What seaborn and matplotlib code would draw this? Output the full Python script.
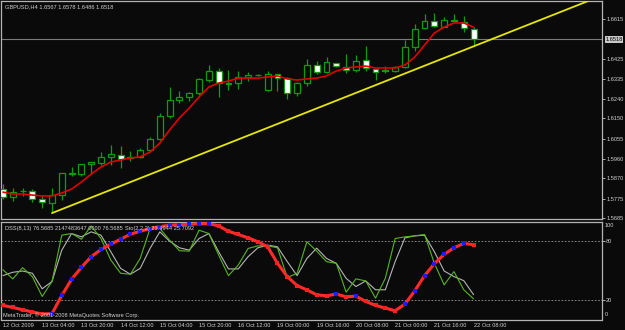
import numpy as np
import pandas as pd
import matplotlib
matplotlib.use("Agg")
import matplotlib.pyplot as plt
import seaborn as sns

sns.set_theme(style="dark")
plt.rcParams['font.family'] = ['Liberation Sans', 'DejaVu Sans']

# ---------------- data ----------------
title_text = "GBPUSD,H4 1.6567 1.6578 1.6486 1.6518"
dss_label = "DSS(8,13) 76.5685 2147483647.0000 76.5685"
sto_label = "Sto(2,2,2) 21.4944 25.7092"
copyright_text = "MetaTrader, \u00a9 2001-2008 MetaQuotes Software Corp."

time_labels = ["12 Oct 2009", "13 Oct 04:00", "13 Oct 20:00", "14 Oct 12:00",
               "15 Oct 04:00", "15 Oct 20:00", "16 Oct 12:00", "19 Oct 00:00",
               "19 Oct 16:00", "20 Oct 08:00", "21 Oct 00:00", "21 Oct 16:00",
               "22 Oct 08:00"]
time_label_bars = [0, 4, 8, 12, 16, 20, 24, 28, 32, 36, 40, 44, 48]

opens = [1.5820, 1.5783, 1.5810, 1.5811, 1.5774, 1.5755, 1.5792, 1.5895, 1.5890, 1.5937,
         1.5942, 1.5970, 1.5979, 1.5965, 1.5970, 1.6002, 1.6054, 1.6161, 1.6236, 1.6250,
         1.6268, 1.6329, 1.6371, 1.6312, 1.6315, 1.6343, 1.6352, 1.6282, 1.6357, 1.6338,
         1.6268, 1.6315, 1.6399, 1.6366, 1.6408, 1.6390, 1.6376, 1.6422, 1.6380, 1.6376,
         1.6371, 1.6390, 1.6483, 1.6572, 1.6604, 1.6576, 1.6609, 1.6600, 1.6567]
highs = [1.5844, 1.5825, 1.5825, 1.5820, 1.5792, 1.5825, 1.5897, 1.5923, 1.5939, 1.5948,
         1.5993, 1.6026, 1.6021, 1.5998, 1.6012, 1.6063, 1.6175, 1.6296, 1.6278, 1.6273,
         1.6338, 1.6399, 1.6385, 1.6376, 1.6371, 1.6366, 1.6357, 1.6371, 1.6359, 1.6343,
         1.6320, 1.6427, 1.6418, 1.6436, 1.6410, 1.6450, 1.6446, 1.6488, 1.6382, 1.6394,
         1.6394, 1.6516, 1.6590, 1.6637, 1.6642, 1.6623, 1.6637, 1.6628, 1.6578]
lows = [1.5774, 1.5764, 1.5788, 1.5760, 1.5732, 1.5708, 1.5769, 1.5881, 1.5881, 1.5895,
        1.5932, 1.5932, 1.5918, 1.5951, 1.5965, 1.5993, 1.6049, 1.6152, 1.6222, 1.6231,
        1.6259, 1.6320, 1.6250, 1.6282, 1.6287, 1.6324, 1.6348, 1.6278, 1.6278, 1.6240,
        1.6254, 1.6301, 1.6357, 1.6362, 1.6390, 1.6362, 1.6366, 1.6371, 1.6329, 1.6362,
        1.6366, 1.6385, 1.6464, 1.6567, 1.6576, 1.6576, 1.6604, 1.6553, 1.6486]
closes = [1.5783, 1.5806, 1.5812, 1.5774, 1.5760, 1.5792, 1.5895, 1.5890, 1.5937, 1.5946,
          1.5970, 1.5984, 1.5960, 1.5972, 1.6002, 1.6054, 1.6161, 1.6236, 1.6250, 1.6268,
          1.6334, 1.6371, 1.6315, 1.6315, 1.6343, 1.6352, 1.6353, 1.6357, 1.6338, 1.6268,
          1.6315, 1.6399, 1.6366, 1.6413, 1.6394, 1.6376, 1.6418, 1.6385, 1.6366, 1.6371,
          1.6390, 1.6483, 1.6567, 1.6604, 1.6581, 1.6609, 1.6604, 1.6572, 1.6518]
moving_avg = [1.5806, 1.5797, 1.5797, 1.5792, 1.5788, 1.5788, 1.5802, 1.5820, 1.5853, 1.5890,
              1.5923, 1.5946, 1.5956, 1.5965, 1.5970, 1.5993, 1.6035, 1.6096, 1.6152, 1.6198,
              1.6250, 1.6296, 1.6315, 1.6324, 1.6338, 1.6338, 1.6338, 1.6343, 1.6348, 1.6334,
              1.6329, 1.6334, 1.6338, 1.6348, 1.6371, 1.6385, 1.6390, 1.6394, 1.6385, 1.6385,
              1.6385, 1.6399, 1.6436, 1.6492, 1.6548, 1.6576, 1.6595, 1.6595, 1.6576]

trend_bars = [5, 48]
trend_prices = [1.5708, 1.6486]
bid_price = 1.6518

price_ticks = [1.6615, 1.6425, 1.6335, 1.6240, 1.6150, 1.6055, 1.5960, 1.5870, 1.5775, 1.5685]
price_range = [1.56804, 1.66976]

dss = [14.8, 12.8, 10.4, 8.1, 6.2, 6.4, 24.9, 41.4, 53.5, 64.3, 71.7, 77.1, 82.1, 87.2, 90.2,
       92.9, 94.9, 96.3, 97.0, 97.3, 97.7, 98.0, 95.6, 90.2, 86.9, 83.5, 79.5, 74.4, 57.6, 44.1,
       35.0, 30.6, 25.6, 24.6, 26.3, 23.6, 24.2, 18.9, 14.8, 12.1, 9.4, 16.2, 29.6, 45.1, 57.2,
       66.7, 73.4, 77.8, 76.57]
sto_main = [51.0, 41.8, 53.2, 44.0, 23.9, 39.1, 86.2, 87.9, 82.1, 95.6, 82.8, 60.9, 47.5, 46.5,
            62.6, 92.9, 93.0, 81.1, 70.4, 70.0, 91.3, 87.9, 66.0, 45.1, 55.9, 72.7, 75.4, 75.4,
            73.4, 43.1, 47.5, 79.5, 70.0, 59.3, 57.6, 28.3, 41.8, 39.7, 22.2, 42.4, 82.8, 84.5,
            85.5, 86.9, 57.6, 35.7, 49.2, 30.7, 21.49]
sto_signal = [45.1, 48.5, 49.8, 47.5, 31.7, 39.1, 71.0, 87.9, 84.5, 89.6, 86.2, 69.4, 52.5, 46.5,
              52.5, 72.7, 89.6, 80.1, 73.4, 71.0, 82.8, 87.9, 69.4, 51.9, 51.9, 64.3, 73.4, 76.1,
              74.4, 59.3, 45.1, 62.6, 73.0, 62.6, 57.6, 42.4, 34.0, 39.7, 30.7, 30.7, 59.3, 83.5,
              85.5, 86.2, 69.4, 49.8, 44.1, 40.0, 25.71]
osc_levels = [80, 20]
osc_range = [0.5, 99.6]

# ---------------- styling ----------------
BG = '#0a0a0a'
FRAME = '#b4b4b4'
TXT = '#d2d2d2'
CANDLE = '#109c10'
FS = 4.1

W, H = 625, 330
fig = plt.figure(figsize=(W / 100, H / 100), dpi=100, facecolor=BG)

def px_axes(x0, y0, x1, y1):
    return fig.add_axes([x0 / W, 1 - y1 / H, (x1 - x0) / W, (y1 - y0) / H])

ax = px_axes(1, 1, 602, 219)
ax2 = px_axes(1, 222, 602, 319.5)

n = len(opens)
idx = np.arange(n)
xlim = (-0.2, 61.1)

df = pd.DataFrame({'bar': idx, 'open': opens, 'high': highs, 'low': lows,
                   'close': closes, 'ma': moving_avg, 'dss': dss,
                   'main': sto_main, 'signal': sto_signal})

for a in (ax, ax2):
    a.set_facecolor(BG)
    a.set_xlim(*xlim)
    a.grid(False)
    for s in a.spines.values():
        s.set_color(FRAME)
        s.set_linewidth(0.9)

# ---- main panel ----
ax.vlines(df['bar'], df['low'], df['high'], color=CANDLE, lw=0.9, zorder=2)
bull = df['close'] >= df['open']
body_lo = np.minimum(df['open'], df['close'])
body_h = np.maximum(np.abs(df['close'] - df['open']), 0.00004)
ax.bar(df['bar'][bull], body_h[bull], bottom=body_lo[bull], width=0.6,
       facecolor=BG, edgecolor=CANDLE, linewidth=0.9, zorder=3)
ax.bar(df['bar'][~bull], body_h[~bull], bottom=body_lo[~bull], width=0.6,
       facecolor='white', edgecolor=CANDLE, linewidth=0.9, zorder=3)

sns.lineplot(data=df, x='bar', y='ma', color='#e00000', lw=1.2, ax=ax, zorder=4)

slope = (trend_prices[1] - trend_prices[0]) / (trend_bars[1] - trend_bars[0])
tx = [trend_bars[0], xlim[1]]
ty = [trend_prices[0], trend_prices[0] + slope * (xlim[1] - trend_bars[0])]
ax.plot(tx, ty, color='#e6e600', lw=1.3, zorder=5)

ax.axhline(bid_price, color='#7a7a7a', lw=0.8, zorder=1)

ax.set_ylim(*price_range)
ax.yaxis.tick_right()
ax.set_yticks(price_ticks)
ax.set_yticklabels([f"{v:.4f}" for v in price_ticks])
ax.set_xticks([])
ax.set_xlabel('')
ax.set_ylabel('')
ax.tick_params(axis='y', colors=FRAME, labelcolor=TXT, labelsize=FS, length=2,
               width=0.7, pad=1.0, direction='out')
ax.annotate(f"{bid_price:.4f}", xy=(1, bid_price), xycoords=('axes fraction', 'data'),
            xytext=(2.3, 0), textcoords='offset points', va='center', ha='left',
            fontsize=FS, color='black',
            bbox=dict(boxstyle='square,pad=0.1', facecolor='#c8c8c8', edgecolor='none'))
ax.text(0.006, 0.985, title_text, transform=ax.transAxes, va='top', ha='left',
        fontsize=FS, color=TXT)

# ---- oscillator panel ----
for lv in osc_levels:
    ax2.axhline(lv, color='#9a9a9a', lw=0.6, ls=(0, (2, 2)), zorder=1)
sns.lineplot(data=df, x='bar', y='signal', color='#b4b4b4', lw=0.8, ax=ax2, zorder=2)
sns.lineplot(data=df, x='bar', y='main', color='#58b41e', lw=0.8, ax=ax2, zorder=3)
sns.lineplot(data=df, x='bar', y='dss', color='#ff2a2a', lw=2.2, ax=ax2, zorder=4)
rising = df['dss'].diff() > 0
ax2.scatter(df['bar'][rising], df['dss'][rising], s=9, marker='s', color='#1c1cff',
            linewidths=0, zorder=5)
ax2.scatter(df['bar'][~rising], df['dss'][~rising], s=9, marker='s', color='#ff2020',
            linewidths=0, zorder=5)

ax2.set_ylim(*osc_range)
ax2.yaxis.tick_right()
ax2.set_yticks(osc_levels)
ax2.set_yticklabels([str(v) for v in osc_levels])
ax2.tick_params(axis='y', colors=FRAME, labelcolor=TXT, labelsize=FS, length=2,
                width=0.7, pad=1.0, direction='out')
ax2.annotate('100', xy=(1, 1), xycoords='axes fraction', xytext=(2.2, -0.8),
             textcoords='offset points', va='top', ha='left', fontsize=FS, color=TXT)
ax2.annotate('0', xy=(1, 0), xycoords='axes fraction', xytext=(2.2, 1.8),
             textcoords='offset points', va='bottom', ha='left', fontsize=FS, color=TXT)
ax2.set_xticks(time_label_bars)
ax2.set_xticklabels(time_labels)
ax2.tick_params(axis='x', colors=FRAME, labelcolor=TXT, labelsize=FS, length=2,
                width=0.7, pad=0.8, direction='out')
for lab in ax2.get_xticklabels():
    lab.set_ha('left')
ax2.set_xlabel('')
ax2.set_ylabel('')
ax2.text(0.006, 0.955, dss_label, transform=ax2.transAxes, va='top', ha='left',
         fontsize=FS, color=TXT, zorder=10)
ax2.text(124 / 601, 0.955, sto_label, transform=ax2.transAxes, va='top', ha='left',
         fontsize=FS, color=TXT, zorder=10)
ax2.text(0.004, 0.02, copyright_text, transform=ax2.transAxes, va='bottom', ha='left',
         fontsize=FS, color=TXT, zorder=10)

fig.savefig('out.png', dpi=100, facecolor=BG)
